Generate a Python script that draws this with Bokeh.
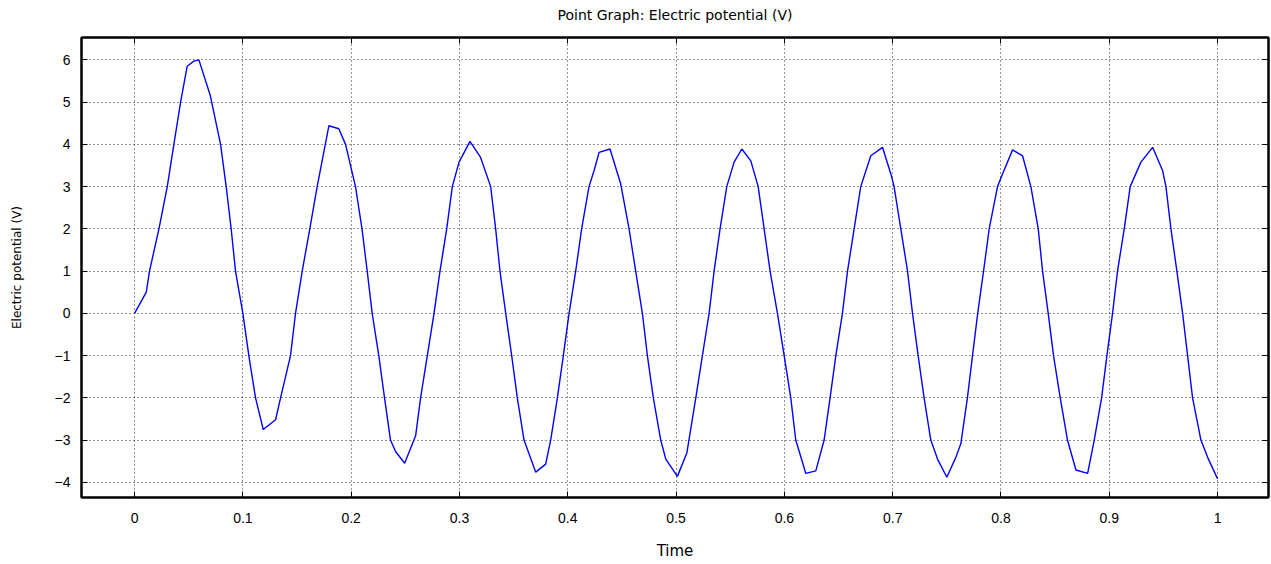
from bokeh.plotting import figure
from bokeh.models import LinearAxis, FixedTicker, CustomJSTickFormatter
from bokeh.embed import file_html
from bokeh.resources import INLINE

# Time (s) and electric potential (V)
time = [0.0, 0.0108, 0.0138, 0.0225, 0.0302, 0.0363, 0.0425, 0.0486, 0.0548, 0.0594,
        0.0700, 0.0794, 0.0846, 0.0892, 0.0932, 0.1000, 0.1055, 0.1117, 0.1188, 0.1302,
        0.1348, 0.1440, 0.1486, 0.1548, 0.1618, 0.1686, 0.1794, 0.1886, 0.1948, 0.2040,
        0.2100, 0.2148, 0.2194, 0.2255, 0.2308, 0.2363, 0.2410, 0.2494, 0.2595, 0.2641,
        0.2703, 0.2765, 0.2820, 0.2882, 0.2934, 0.2996, 0.3097, 0.3195, 0.3288, 0.3334,
        0.3374, 0.3427, 0.3482, 0.3534, 0.3596, 0.3704, 0.3796, 0.3842, 0.3904, 0.3959,
        0.4012, 0.4073, 0.4128, 0.4196, 0.4243, 0.4289, 0.4390, 0.4489, 0.4566, 0.4627,
        0.4689, 0.4735, 0.4790, 0.4858, 0.4905, 0.5012, 0.5100, 0.5182, 0.5243, 0.5305,
        0.5351, 0.5406, 0.5468, 0.5536, 0.5607, 0.5690, 0.5758, 0.5813, 0.5868, 0.5936,
        0.5998, 0.6059, 0.6105, 0.6198, 0.6290, 0.6367, 0.6422, 0.6475, 0.6536, 0.6583,
        0.6644, 0.6705, 0.6798, 0.6906, 0.6983, 0.7013, 0.7075, 0.7137, 0.7183, 0.7235,
        0.7290, 0.7352, 0.7414, 0.7500, 0.7583, 0.7629, 0.7690, 0.7737, 0.7785, 0.7839,
        0.7891, 0.7968, 0.8014, 0.8107, 0.8199, 0.8276, 0.8344, 0.8384, 0.8436, 0.8485,
        0.8547, 0.8614, 0.8692, 0.8800, 0.8861, 0.8929, 0.8978, 0.9030, 0.9076, 0.9138,
        0.9193, 0.9292, 0.9400, 0.9492, 0.9523, 0.9569, 0.9624, 0.9677, 0.9723, 0.9769,
        0.9846, 0.9908, 1.0000]
potential = [0.0, 0.50, 1.0, 2.0, 3.0, 4.0, 5.0, 5.85, 5.97, 6.0,
             5.15, 4.0, 3.0, 2.0, 1.0, 0.0, -1.0, -2.0, -2.75, -2.52,
             -2.0, -1.0, 0.0, 1.0, 2.0, 3.0, 4.44, 4.37, 4.0, 3.0,
             2.0, 1.0, 0.0, -1.0, -2.0, -3.0, -3.27, -3.55, -2.9, -2.0,
             -1.0, 0.0, 1.0, 2.0, 3.0, 3.58, 4.07, 3.69, 3.0, 2.0,
             1.0, 0.0, -1.0, -2.0, -3.0, -3.76, -3.57, -3.0, -2.0, -1.0,
             0.0, 1.0, 2.0, 3.0, 3.38, 3.81, 3.89, 3.06, 2.0, 1.0,
             0.0, -1.0, -2.0, -3.0, -3.45, -3.86, -3.3, -2.0, -1.0, 0.0,
             1.0, 2.0, 3.0, 3.58, 3.89, 3.61, 3.0, 2.0, 1.0, 0.0,
             -1.0, -2.0, -3.0, -3.79, -3.73, -3.0, -2.0, -1.0, 0.0, 1.0,
             2.0, 3.0, 3.73, 3.93, 3.3, 3.0, 2.0, 1.0, 0.0, -1.0,
             -2.0, -3.0, -3.45, -3.88, -3.41, -3.09, -2.0, -1.0, 0.0, 1.0,
             2.0, 3.0, 3.3, 3.87, 3.73, 3.0, 2.0, 1.0, 0.0, -1.0,
             -2.0, -3.0, -3.71, -3.79, -3.0, -2.0, -1.0, 0.0, 1.0, 2.0,
             3.0, 3.58, 3.93, 3.38, 3.0, 2.0, 1.0, 0.0, -1.0, -2.0,
             -3.0, -3.41, -3.92]

x_ticks = [0, 0.1, 0.2, 0.3, 0.4, 0.5, 0.6, 0.7, 0.8, 0.9, 1.0]
y_ticks = [-4, -3, -2, -1, 0, 1, 2, 3, 4, 5, 6]

TITLE = "Point Graph: Electric potential (V)"
X_LABEL = "Time"
Y_LABEL = "Electric potential (V)"

FONT = "DejaVu Sans"
TICK_FONT = "Liberation Sans"

p = figure(width=1271, height=564, x_range=(-0.049, 1.047), y_range=(-4.36, 6.53),
           output_backend="svg", toolbar_location=None,
           min_border_left=81, min_border_right=3, min_border_top=37, min_border_bottom=67,
           background_fill_color="white", border_fill_color="white")

p.line(time, potential, line_color="#0000ff", line_width=1.4)

p.outline_line_color = "black"
p.outline_line_width = 2

xt = FixedTicker(ticks=x_ticks)
yt = FixedTicker(ticks=y_ticks)
fmt = CustomJSTickFormatter(code="return (Math.round(tick*10)/10).toString();")

p.xaxis.ticker = xt
p.xaxis.formatter = fmt
p.yaxis.ticker = yt

for ax in (p.xaxis[0], p.yaxis[0]):
    ax.major_tick_in = 6
    ax.major_tick_out = 0
    ax.minor_tick_in = 0
    ax.minor_tick_out = 0
    ax.major_tick_line_color = "black"
    ax.major_tick_line_width = 1
    ax.axis_line_color = "black"
    ax.axis_line_width = 2
    ax.major_label_text_font = TICK_FONT
    ax.major_label_text_font_size = "14px"
    ax.major_label_text_color = "black"
    ax.axis_label_text_font = FONT
    ax.axis_label_text_font_style = "normal"
    ax.axis_label_text_color = "black"

p.xaxis.axis_label = X_LABEL
p.xaxis.axis_label_text_font_size = "15px"
p.xaxis.major_label_standoff = 15
p.xaxis.axis_label_standoff = 16
p.yaxis.axis_label = Y_LABEL
p.yaxis.axis_label_text_font_size = "12px"
p.yaxis.major_label_standoff = 11
p.yaxis.axis_label_standoff = 28

# top axis: inward ticks, no tick labels, carries the chart title
top = LinearAxis(ticker=FixedTicker(ticks=x_ticks), major_tick_in=6, major_tick_out=0,
                 minor_tick_in=0, minor_tick_out=0, major_label_text_color=None,
                 major_label_standoff=0, axis_line_width=2,
                 axis_label=TITLE, axis_label_text_font=FONT,
                 axis_label_text_font_size="14px", axis_label_text_font_style="normal",
                 axis_label_text_color="black", axis_label_standoff=15)
right = LinearAxis(ticker=FixedTicker(ticks=y_ticks), major_tick_in=6, major_tick_out=0,
                   minor_tick_in=0, minor_tick_out=0, major_label_text_color=None,
                   major_label_standoff=0, axis_line_width=2)
p.add_layout(top, "above")
p.add_layout(right, "right")

p.xgrid.ticker = xt
p.ygrid.ticker = yt
for g in (p.xgrid[0], p.ygrid[0]):
    g.grid_line_color = "black"
    g.grid_line_dash = "1 3"
    g.grid_line_width = 1
    g.grid_line_alpha = 0.85

open("out.html", "w").write(file_html(p, INLINE))
